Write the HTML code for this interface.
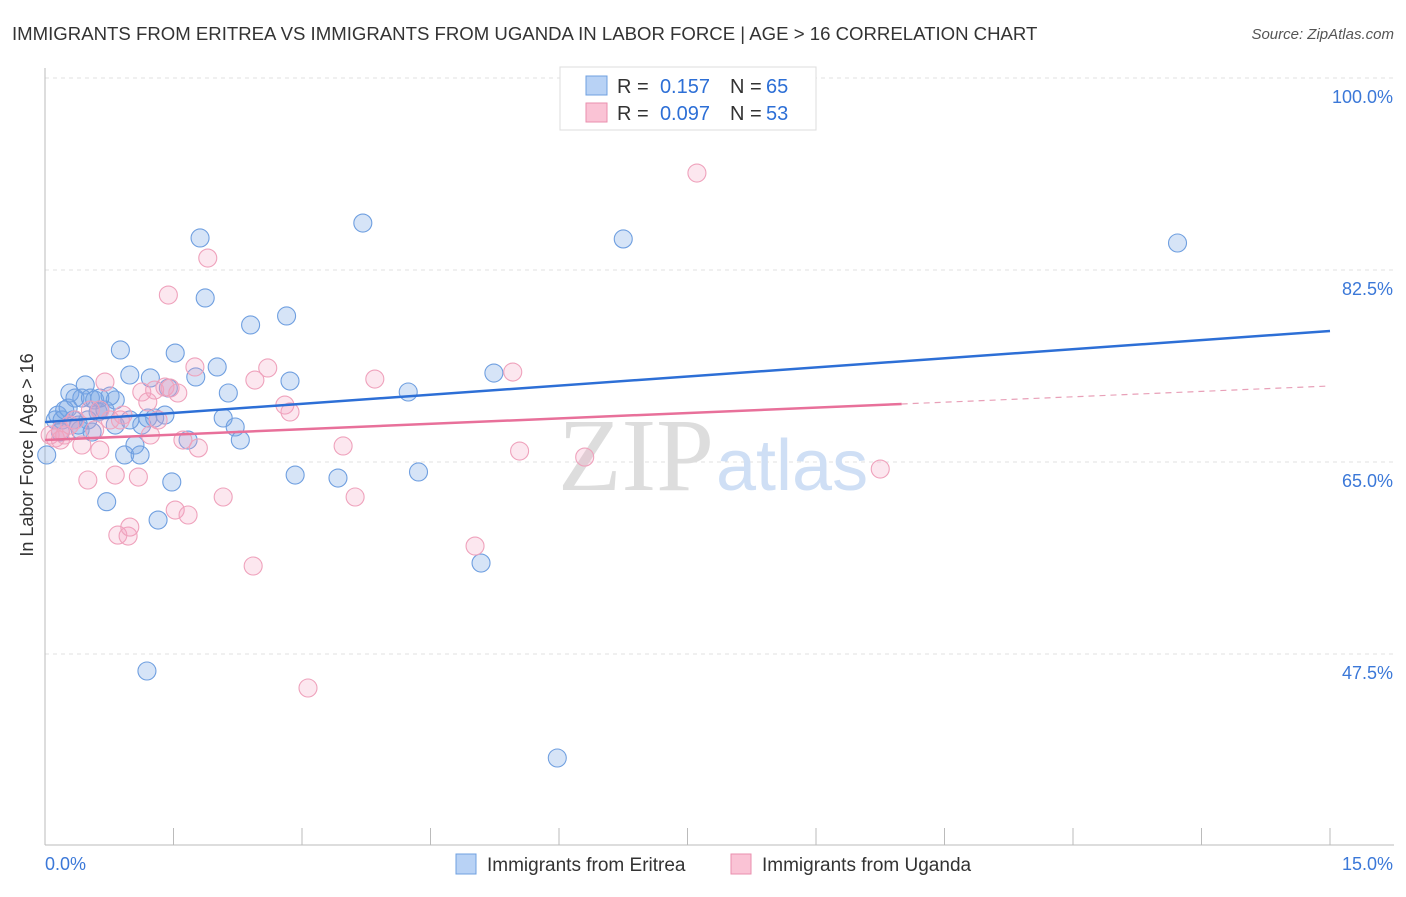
<!DOCTYPE html>
<html><head><meta charset="utf-8"><style>
body{margin:0;background:#fff;font-family:"Liberation Sans",sans-serif;}
</style></head><body>
<svg id="chart" width="1406" height="892" xmlns="http://www.w3.org/2000/svg">
<text x="12" y="40" font-size="18.6" fill="#333">IMMIGRANTS FROM ERITREA VS IMMIGRANTS FROM UGANDA IN LABOR FORCE | AGE &gt; 16 CORRELATION CHART</text>
<text x="1394" y="39" font-size="15" fill="#555" font-style="italic" text-anchor="end">Source: ZipAtlas.com</text>
<g id="grid"></g>
<text x="714" y="490" font-size="104" fill="#ddd" text-anchor="end" font-family="Liberation Serif,serif">ZIP</text>
<text x="716" y="490" font-size="72" fill="#cfdff5">atlas</text>
<g id="pts"></g>
<g id="lines"></g>
<text x="33" y="455" font-size="18" fill="#333" text-anchor="middle" transform="rotate(-90 33 455)">In Labor Force | Age &gt; 16</text>
<g>
<rect x="560" y="67" width="256" height="63" fill="#fff" stroke="#ddd"/>
<rect x="586" y="76" width="21" height="19" fill="#b8d2f5" stroke="#6fa0e0"/>
<rect x="586" y="103" width="21" height="19" fill="#fac3d5" stroke="#ea8fae"/>
<text x="617" y="93" font-size="20" fill="#333">R =</text>
<text x="710" y="93" font-size="20" fill="#2d6fd6" text-anchor="end">0.157</text>
<text x="730" y="93" font-size="20" fill="#333">N =</text>
<text x="766" y="93" font-size="20" fill="#2d6fd6">65</text>
<text x="617" y="120" font-size="20" fill="#333">R =</text>
<text x="710" y="120" font-size="20" fill="#2d6fd6" text-anchor="end">0.097</text>
<text x="730" y="120" font-size="20" fill="#333">N =</text>
<text x="766" y="120" font-size="20" fill="#2d6fd6">53</text>
</g>
<g>
<rect x="456" y="854" width="20" height="20" fill="#b8d2f5" stroke="#6fa0e0"/>
<text x="487" y="871" font-size="19" fill="#333">Immigrants from Eritrea</text>
<rect x="731" y="854" width="20" height="20" fill="#fac3d5" stroke="#ea8fae"/>
<text x="762" y="871" font-size="19" fill="#333">Immigrants from Uganda</text>
</g>
<text x="45" y="870" font-size="18" fill="#3b78d8">0.0%</text>
<text x="1393" y="870" font-size="18" fill="#3b78d8" text-anchor="end">15.0%</text>
</svg>
<script>
const yTicks=[100,82.5,65,47.5];
const xTickVals=[0,1.5,3,4.5,6,7.5,9,10.5,12,13.5,15];
const eritreaX=[0.12,0.15,0.20,0.27,0.29,0.35,0.41,0.47,0.43,0.53,0.58,0.62,0.64,0.70,0.76,0.82,0.88,0.93,0.99,1.05,1.11,1.13,1.20,1.23,1.28,1.32,1.40,1.44,1.48,1.52,1.67,1.76,1.81,1.87,2.01,2.08,2.14,2.22,2.28,2.40,2.82,2.86,2.92,3.42,3.71,4.24,4.36,5.09,5.24,5.98,6.75,13.22,1.19,0.72,0.55,0.33,0.23,0.50,0.18,0.99,0.82,0.64,0.39,0.02];
const eritreaY=[68.83,69.28,68.83,69.92,71.29,70.83,67.92,72.02,70.83,70.83,70.65,69.56,69.74,69.74,71.01,68.37,75.21,65.64,72.93,66.55,65.64,68.37,69.01,72.66,69.01,59.71,69.28,71.74,63.18,74.93,67.00,72.75,85.42,79.95,73.66,69.01,71.29,68.19,67.00,77.49,78.31,72.38,63.81,63.54,86.78,71.38,64.09,55.79,73.11,38.02,85.33,84.96,45.95,61.38,67.73,68.83,69.74,68.83,67.73,68.83,70.65,70.83,68.37,65.64];
const ugandaX=[0.06,0.12,0.18,0.23,0.29,0.35,0.43,0.50,0.58,0.64,0.70,0.76,0.82,0.85,0.91,0.97,0.99,1.09,1.13,1.20,1.23,1.28,1.32,1.40,1.44,1.46,1.52,1.55,1.61,1.67,1.75,1.79,1.90,2.08,2.43,2.45,2.60,2.80,2.86,3.07,3.48,3.62,3.85,5.02,5.46,5.54,6.30,7.61,9.75,0.18,0.53,0.88,0.64];
const ugandaY=[67.46,67.19,67.92,67.46,68.37,68.83,66.55,63.36,67.92,69.74,72.29,68.83,63.81,58.34,69.28,58.25,59.07,63.63,71.38,70.47,67.46,71.56,68.83,71.83,80.22,71.74,60.62,71.29,67.00,60.17,73.66,66.28,83.59,61.81,55.52,72.47,73.57,70.19,69.56,44.40,66.46,61.81,72.56,57.34,73.20,66.00,65.45,91.34,64.36,67.00,69.74,68.83,66.09];
const eritreaTrend=[68.64,76.94];
const ugandaTrend=[67.0,71.93];
const ugandaSolidEnd=10.0;

const NS="http://www.w3.org/2000/svg";
const X=v=>45+v/15*1285;
const Y=v=>78+(100-v)*192/17.5;
function mk(tag,attrs,parent){const e=document.createElementNS(NS,tag);for(const k in attrs)e.setAttribute(k,attrs[k]);parent.appendChild(e);return e;}
const grid=document.getElementById('grid');
yTicks.forEach(t=>{
  const l=mk('line',{x1:45,x2:1394,y1:Y(t),y2:Y(t),stroke:'#e2e2e2','stroke-dasharray':'4,4'},grid);
  
  
  const tx=mk('text',{x:1393,y:Y(t)+25,'font-size':18,fill:'#3b78d8','text-anchor':'end'},grid);
  tx.textContent=t.toFixed(1)+'%';
  
  
});
const ax=mk('line',{x1:45,x2:45,y1:68,y2:845,stroke:'#bbb'},grid);


const bx=mk('line',{x1:45,x2:1394,y1:845,y2:845,stroke:'#bbb'},grid);


xTickVals.forEach(t=>{
  const l=mk('line',{x1:X(t),x2:X(t),y1:828,y2:845,stroke:'#bbb'},grid);
  
  
});
const pts=document.getElementById('pts');
eritreaX.forEach((v,i)=>{
  const c=mk('circle',{cx:X(v),cy:Y(eritreaY[i]),r:9,fill:'rgba(120,165,230,0.3)',stroke:'#6f9fe0','stroke-width':1.1},pts);
  
  
});
ugandaX.forEach((v,i)=>{
  const c=mk('circle',{cx:X(v),cy:Y(ugandaY[i]),r:9,fill:'rgba(245,160,190,0.25)',stroke:'#efa2bc','stroke-width':1.1},pts);
  
  
});
const lines=document.getElementById('lines');
const bl=mk('line',{x1:X(0),y1:Y(eritreaTrend[0]),x2:X(15),y2:Y(eritreaTrend[1]),stroke:'#2d6fd6','stroke-width':2.5},lines);


const uy=x=>ugandaTrend[0]+(ugandaTrend[1]-ugandaTrend[0])*x/15;
const pl=mk('line',{x1:X(0),y1:Y(uy(0)),x2:X(ugandaSolidEnd),y2:Y(uy(ugandaSolidEnd)),stroke:'#e8709a','stroke-width':2.5},lines);


const pd=mk('line',{x1:X(ugandaSolidEnd),y1:Y(uy(ugandaSolidEnd)),x2:X(15),y2:Y(uy(15)),stroke:'#e8a0b8','stroke-width':1.2,'stroke-dasharray':'6,5'},lines);


</script>
</body></html>
